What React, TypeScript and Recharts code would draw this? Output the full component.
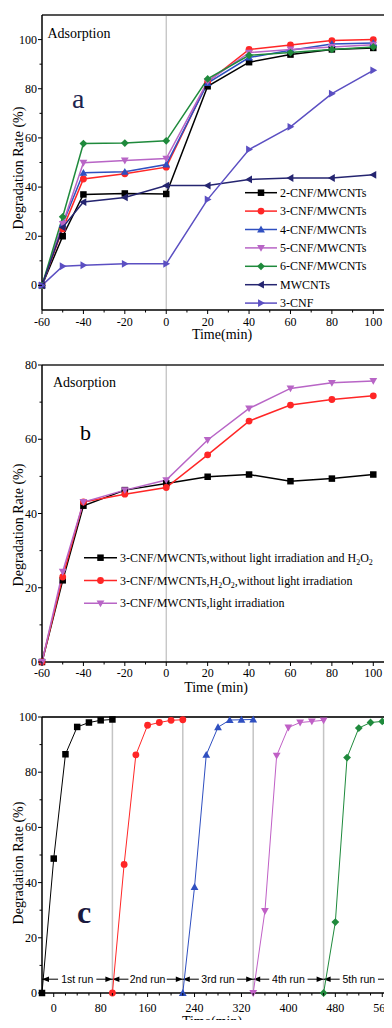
import React from 'react';
import { LineChart, Line, XAxis, YAxis, ReferenceLine, Legend } from 'recharts';

const SERIF = '"Liberation Serif", "Times New Roman", serif';
const SANS = '"Liberation Sans", Arial, sans-serif';

// ---------- Panel a ----------
const timeA = [-60, -50, -40, -20, 0, 20, 40, 60, 80, 100];
const cnf2mw = [0, 20, 37, 37.4, 37.2, 81, 90.8, 93.9, 96, 96.6];
const cnf3mw = [0, 23, 43.3, 45.4, 48.1, 82.8, 96, 97.8, 99.6, 100];
const cnf4mw = [0, 25, 45.8, 46.2, 49.2, 82.3, 92.7, 95.7, 98.2, 98.6];
const cnf5mw = [0, 25, 49.9, 50.8, 51.6, 83, 94.7, 96, 97, 97.9];
const cnf6mw = [0, 27.9, 57.7, 57.9, 58.8, 84, 93.6, 94.7, 96, 97];
const mwcnts = [0, 23.6, 33.9, 35.8, 40.6, 40.6, 43.1, 43.7, 43.7, 45];
const cnf3 = [0, 7.8, 8.2, 8.8, 8.8, 35, 55.3, 64.5, 78, 87.5];
const namesA = ['2-CNF/MWCNTs', '3-CNF/MWCNTs', '4-CNF/MWCNTs', '5-CNF/MWCNTs', '6-CNF/MWCNTs', 'MWCNTs', '3-CNF'];
const xTicksA = [-60, -50, -40, -30, -20, -10, 0, 10, 20, 30, 40, 50, 60, 70, 80, 90, 100];
const xMajorA = [-60, -40, -20, 0, 20, 40, 60, 80, 100];
const yTicksA = [0, 10, 20, 30, 40, 50, 60, 70, 80, 90, 100];
const yMajorA = [0, 20, 40, 60, 80, 100];

// ---------- Panel b ----------
const timeB = [-60, -50, -40, -20, 0, 20, 40, 60, 80, 100];
const bDark = [0, 22, 42.1, 46.3, 48.1, 49.9, 50.5, 48.7, 49.4, 50.5];
const bH2O2 = [0, 22.9, 43.1, 45.2, 47, 55.8, 64.9, 69.2, 70.7, 71.7];
const bLight = [0, 24.3, 43.1, 46.3, 49, 59.8, 68.3, 73.7, 75.2, 75.7];
const namesB = [
  '3-CNF/MWCNTs,without light irradiation and H2O2',
  '3-CNF/MWCNTs,H2O2,without light irradiation',
  '3-CNF/MWCNTs,light irradiation',
];
const yTicksB = [0, 10, 20, 30, 40, 50, 60, 70, 80];
const yMajorB = [0, 20, 40, 60, 80];

// ---------- Panel c ----------
const run1T = [-20, 0, 20, 40, 60, 80, 100];
const run1V = [0, 48.7, 86.5, 96.4, 98, 98.8, 99.1];
const run2T = [100, 120, 140, 160, 180, 200, 220];
const run2V = [0, 46.6, 86.3, 97, 98, 98.8, 99];
const run3T = [220, 240, 260, 280, 300, 320, 340];
const run3V = [0, 38.4, 86.3, 96.3, 98.9, 99, 99.1];
const run4T = [340, 360, 380, 400, 420, 440, 460];
const run4V = [0, 29.7, 86, 96.2, 98, 98.4, 98.8];
const run5T = [460, 480, 500, 520, 540, 560, 580];
const run5V = [0, 25.7, 85.3, 96, 98, 98.4, 98.9];
const runLabels = ['1st run', '2nd run', '3rd run', '4th run', '5th run'];
const runBounds = [-20, 100, 220, 340, 460, 580];
const xTicksC = [0, 20, 40, 60, 80, 100, 120, 140, 160, 180, 200, 220, 240, 260, 280, 300, 320, 340, 360, 380, 400, 420, 440, 460, 480, 500, 520, 540, 560, 580];
const xMajorC = [0, 80, 160, 240, 320, 400, 480, 560];
const yTicksC = [0, 10, 20, 30, 40, 50, 60, 70, 80, 90, 100];
const yMajorC = [0, 20, 40, 60, 80, 100];

// ---------- styles ----------
const stylesA = [
  { color: '#000000', shape: 'square' },
  { color: '#ff2626', shape: 'circle' },
  { color: '#2f4fc0', shape: 'up' },
  { color: '#b865c6', shape: 'down' },
  { color: '#1f8a3c', shape: 'diamond' },
  { color: '#252570', shape: 'left' },
  { color: '#5b4fc2', shape: 'right' },
];
const stylesB = [
  { color: '#000000', shape: 'square' },
  { color: '#ff2626', shape: 'circle' },
  { color: '#b865c6', shape: 'down' },
];
const stylesC = [
  { color: '#000000', shape: 'square' },
  { color: '#ff2626', shape: 'circle' },
  { color: '#2f4fc0', shape: 'up' },
  { color: '#c060c6', shape: 'down' },
  { color: '#1f8a3c', shape: 'diamond' },
];

function Mark({ cx, cy, shape, color, s }: any) {
  if (cx == null || cy == null || isNaN(cx) || isNaN(cy)) return null;
  const h = s / 2;
  const r = h * 1.2;
  switch (shape) {
    case 'square':
      return <rect x={cx - h} y={cy - h} width={s} height={s} fill={color} />;
    case 'circle':
      return <circle cx={cx} cy={cy} r={h * 1.05} fill={color} />;
    case 'up':
      return <polygon points={`${cx},${cy - r} ${cx + r},${cy + r * 0.75} ${cx - r},${cy + r * 0.75}`} fill={color} />;
    case 'down':
      return <polygon points={`${cx},${cy + r} ${cx + r},${cy - r * 0.75} ${cx - r},${cy - r * 0.75}`} fill={color} />;
    case 'diamond':
      return <polygon points={`${cx},${cy - r} ${cx + r},${cy} ${cx},${cy + r} ${cx - r},${cy}`} fill={color} />;
    case 'left':
      return <polygon points={`${cx - r},${cy} ${cx + r * 0.75},${cy - r} ${cx + r * 0.75},${cy + r}`} fill={color} />;
    case 'right':
      return <polygon points={`${cx + r},${cy} ${cx - r * 0.75},${cy - r} ${cx - r * 0.75},${cy + r}`} fill={color} />;
    default:
      return null;
  }
}

const dotFn = (shape: string, color: string, s: number) => (p: any) => (
  <Mark key={`m-${p.index}`} cx={p.cx} cy={p.cy} shape={shape} color={color} s={s} />
);

function yTick(majors: number[], fs = 12) {
  return (p: any) => {
    const { x, y, payload } = p;
    const v = payload.value;
    const major = majors.includes(v);
    return (
      <g>
        <line x1={x} x2={x - (major ? 4 : 2.5)} y1={y} y2={y} stroke="#000" strokeWidth={1} />
        {major ? (
          <text x={x - 5} y={y + 4} textAnchor="end" fontFamily={SERIF} fontSize={fs} fill="#000">
            {v}
          </text>
        ) : null}
      </g>
    );
  };
}

function xTick(majors: number[], off: number, fs = 12) {
  return (p: any) => {
    const { x, y, payload } = p;
    const v = payload.value;
    const major = majors.includes(v);
    return (
      <g>
        <line x1={x} x2={x} y1={y} y2={y + (major ? 4 : 2.5)} stroke="#000" strokeWidth={1} />
        {major ? (
          <text x={x} y={y + off} textAnchor="middle" fontFamily={SERIF} fontSize={fs} fill="#000">
            {v}
          </text>
        ) : null}
      </g>
    );
  };
}

// y-axis title: fixed chart-relative centre
const yTitle = (cyFixed: number) => () => {
  const cx = 23;
  return (
    <text
      x={cx}
      y={cyFixed}
      transform={`rotate(-90, ${cx}, ${cyFixed})`}
      textAnchor="middle"
      fontFamily={SERIF}
      fontSize={14}
      fill="#000"
    >
      Degradation Rate (%)
    </text>
  );
};

// x-axis title at chart-relative position
const xTitle = (text: string, cx: number, y: number) => () => (
  <text x={cx} y={y} textAnchor="middle" fontFamily={SERIF} fontSize={14} fill="#000">
    {text}
  </text>
);

function Chem({ text }: { text: string }) {
  const parts = text.split('H2O2');
  const out: any[] = [];
  parts.forEach((pt, i) => {
    out.push(
      <tspan key={`p${i}`} dy={i > 0 ? -3 : undefined}>
        {pt}
      </tspan>
    );
    if (i < parts.length - 1) {
      out.push(<tspan key={`h${i}`}>H</tspan>);
      out.push(
        <tspan key={`s${i}`} dy={3} fontSize={8}>
          2
        </tspan>
      );
      out.push(
        <tspan key={`o${i}`} dy={-3}>
          O
        </tspan>
      );
      out.push(
        <tspan key={`t${i}`} dy={3} fontSize={8}>
          2
        </tspan>
      );
    }
  });
  return <>{out}</>;
}

function LegendBox({ names, styles, rowY, rowH, x0, x1, tx, w, h, s, sw }: any) {
  return (
    <svg width={w} height={h} style={{ overflow: 'visible' }}>
      {names.map((n: string, i: number) => {
        const y = rowY + i * rowH;
        const st = styles[i];
        return (
          <g key={n}>
            <line x1={x0} x2={x1} y1={y} y2={y} stroke={st.color} strokeWidth={sw} />
            <Mark cx={(x0 + x1) / 2} cy={y} shape={st.shape} color={st.color} s={s} />
            <text x={tx} y={y + 4} fontFamily={SERIF} fontSize={12} fill="#000">
              <Chem text={n} />
            </text>
          </g>
        );
      })}
    </svg>
  );
}

const runShape = (label: string) => (p: any) => {
  const { x1, y1, x2 } = p;
  const y = y1;
  const mid = (x1 + x2) / 2;
  const tw = label.length * 4.9;
  return (
    <g>
      <line x1={x1} x2={mid - tw / 2 - 2} y1={y} y2={y} stroke="#000" strokeWidth={1} />
      <line x1={mid + tw / 2 + 2} x2={x2} y1={y} y2={y} stroke="#000" strokeWidth={1} />
      <polygon points={`${x1},${y} ${x1 + 7},${y - 2.8} ${x1 + 7},${y + 2.8}`} fill="#000" />
      <polygon points={`${x2},${y} ${x2 - 7},${y - 2.8} ${x2 - 7},${y + 2.8}`} fill="#000" />
      <text x={mid} y={y + 4} textAnchor="middle" fontFamily={SANS} fontSize={10.5} fill="#000">
        {label}
      </text>
    </g>
  );
};

const rowsA = timeA.map((t, i) => ({
  t,
  s0: cnf2mw[i],
  s1: cnf3mw[i],
  s2: cnf4mw[i],
  s3: cnf5mw[i],
  s4: cnf6mw[i],
  s5: mwcnts[i],
  s6: cnf3[i],
}));
const rowsB = timeB.map((t, i) => ({ t, s0: bDark[i], s1: bH2O2[i], s2: bLight[i] }));
const runsC = [
  run1T.map((t, i) => ({ t, v: run1V[i] })),
  run2T.map((t, i) => ({ t, v: run2V[i] })),
  run3T.map((t, i) => ({ t, v: run3V[i] })),
  run4T.map((t, i) => ({ t, v: run4V[i] })),
  run5T.map((t, i) => ({ t, v: run5V[i] })),
];

function ChartA() {
  return (
    <LineChart width={400} height={345} data={rowsA} margin={{ top: 15, right: 6, left: 0, bottom: 0 }}>
      <XAxis
        dataKey="t"
        type="number"
        domain={[-60, 110]}
        ticks={xTicksA}
        interval={0}
        tickSize={0}
        tickMargin={0}
        tickLine={false}
        tick={xTick(xMajorA, 16)}
        height={35}
        axisLine={{ stroke: '#000', strokeWidth: 1.5 }}
        label={{ content: xTitle('Time(min)', 222, 339) }}
      />
      <YAxis
        type="number"
        domain={[-10, 110]}
        ticks={yTicksA}
        interval={0}
        tickSize={0}
        tickMargin={0}
        tickLine={false}
        tick={yTick(yMajorA)}
        width={42}
        axisLine={{ stroke: '#000', strokeWidth: 1.5 }}
        label={{ content: yTitle(168) }}
      />
      <ReferenceLine x={0} stroke="#bdbdbd" strokeWidth={1.2} />
      <ReferenceLine y={110} stroke="#555" strokeWidth={2} />
      {stylesA.map((st, i) => (
        <Line
          key={`s${i}`}
          dataKey={`s${i}`}
          name={namesA[i]}
          stroke={st.color}
          strokeWidth={1.5}
          isAnimationActive={false}
          dot={dotFn(st.shape, st.color, 6.5)}
          activeDot={false}
        />
      ))}
      <Legend
        layout="vertical"
        align="center"
        verticalAlign="middle"
        wrapperStyle={{ left: 240, top: 183, width: 160, height: 130 }}
        content={() => (
          <LegendBox names={namesA} styles={stylesA} rowY={9.7} rowH={18.4} x0={5} x1={37} tx={40} w={160} h={130} s={6.5} sw={1.5} />
        )}
      />
    </LineChart>
  );
}

function ChartB() {
  return (
    <LineChart width={400} height={350} data={rowsB} margin={{ top: 20, right: 6, left: 0, bottom: 0 }}>
      <XAxis
        dataKey="t"
        type="number"
        domain={[-60, 110]}
        ticks={xTicksA}
        interval={0}
        tickSize={0}
        tickMargin={0}
        tickLine={false}
        tick={xTick(xMajorA, 15)}
        height={33}
        axisLine={{ stroke: '#000', strokeWidth: 1.5 }}
        label={{ content: xTitle('Time (min)', 216, 346.5) }}
      />
      <YAxis
        type="number"
        domain={[0, 80]}
        ticks={yTicksB}
        interval={0}
        tickSize={0}
        tickMargin={0}
        tickLine={false}
        tick={yTick(yMajorB)}
        width={42}
        axisLine={{ stroke: '#000', strokeWidth: 1.5 }}
        label={{ content: yTitle(180) }}
      />
      <ReferenceLine x={0} stroke="#bdbdbd" strokeWidth={1.2} />
      <ReferenceLine y={80} stroke="#222" strokeWidth={1.5} />
      {stylesB.map((st, i) => (
        <Line
          key={`s${i}`}
          dataKey={`s${i}`}
          name={namesB[i]}
          stroke={st.color}
          strokeWidth={1.5}
          isAnimationActive={false}
          dot={dotFn(st.shape, st.color, 6.5)}
          activeDot={false}
        />
      ))}
      <Legend
        layout="vertical"
        align="center"
        verticalAlign="middle"
        wrapperStyle={{ left: 80, top: 200, width: 310, height: 80 }}
        content={() => (
          <LegendBox names={namesB} styles={stylesB} rowY={12.7} rowH={22.8} x0={4} x1={37} tx={40} w={310} h={80} s={6.5} sw={1.5} />
        )}
      />
    </LineChart>
  );
}

function ChartC() {
  return (
    <LineChart width={400} height={333} margin={{ top: 22, right: 6, left: 0, bottom: 0 }}>
      <XAxis
        dataKey="t"
        type="number"
        domain={[-20, 580]}
        ticks={xTicksC}
        interval={0}
        tickSize={0}
        tickMargin={0}
        tickLine={false}
        tick={xTick(xMajorC, 19)}
        height={35}
        axisLine={{ stroke: '#000', strokeWidth: 1.5 }}
        label={{ content: xTitle('Time(min)', 212, 331) }}
      />
      <YAxis
        type="number"
        domain={[0, 100]}
        ticks={yTicksC}
        interval={0}
        tickSize={0}
        tickMargin={0}
        tickLine={false}
        tick={yTick(yMajorC)}
        width={42}
        axisLine={{ stroke: '#000', strokeWidth: 1.5 }}
        label={{ content: yTitle(168) }}
      />
      {runBounds.slice(1, 5).map((b) => (
        <ReferenceLine key={`v${b}`} x={b} stroke="#c4c4c4" strokeWidth={1.5} />
      ))}
      <ReferenceLine y={100} stroke="#333" strokeWidth={2} />
      {runLabels.map((lab, i) => (
        <ReferenceLine
          key={lab}
          segment={[
            { x: runBounds[i], y: 5 },
            { x: runBounds[i + 1], y: 5 },
          ]}
          shape={runShape(lab)}
        />
      ))}
      {stylesC.map((st, i) => (
        <Line
          key={`r${i}`}
          data={runsC[i]}
          dataKey="v"
          name={runLabels[i]}
          stroke={st.color}
          strokeWidth={1}
          isAnimationActive={false}
          dot={dotFn(st.shape, st.color, 6.5)}
          activeDot={false}
        />
      ))}
    </LineChart>
  );
}

export default function App() {
  return (
    <div
      style={{
        position: 'relative',
        width: 392,
        height: 1028,
        overflow: 'hidden',
        margin: -8,
        background: '#fff',
      }}
    >
      <div style={{ position: 'absolute', left: 0, top: 0 }}>
        <ChartA />
      </div>
      <div style={{ position: 'absolute', left: 0, top: 345 }}>
        <ChartB />
      </div>
      <div style={{ position: 'absolute', left: 0, top: 695 }}>
        <ChartC />
      </div>
      <svg
        width={392}
        height={1028}
        style={{ position: 'absolute', left: 0, top: 0, pointerEvents: 'none' }}
      >
        <text x={47.5} y={38} fontFamily={SERIF} fontSize={14} fill="#000">
          Adsorption
        </text>
        <text x={72} y={108} fontFamily={SERIF} fontSize={28} fill="#1c2450">
          a
        </text>
        <text x={53} y={386.5} fontFamily={SERIF} fontSize={14} fill="#000">
          Adsorption
        </text>
        <text x={80} y={440} fontFamily={SERIF} fontSize={22} fill="#000">
          b
        </text>
        <text x={77} y={923} fontFamily={SERIF} fontSize={32} fontWeight="bold" fill="#1a1a40">
          c
        </text>
      </svg>
    </div>
  );
}
